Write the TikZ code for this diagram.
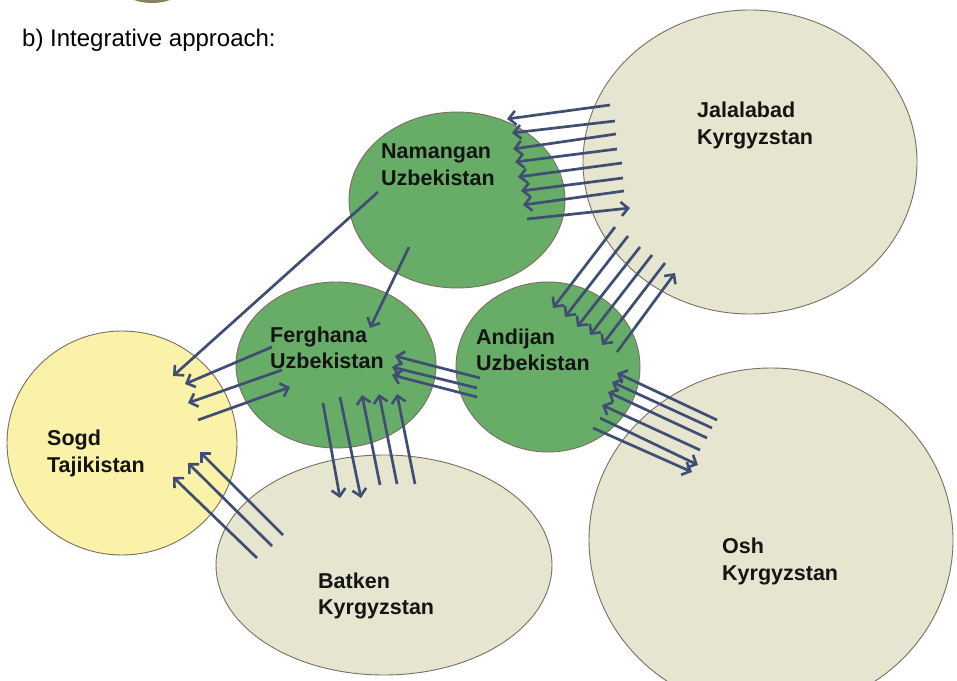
\documentclass[tikz,border=0pt]{standalone}
\usepackage{fontspec}
\setmainfont{Liberation Sans}
\usetikzlibrary{shapes.geometric,arrows.meta}
\definecolor{greenfill}{HTML}{68AD67}
\definecolor{beige}{HTML}{E6E6D0}
\definecolor{yel}{HTML}{FAF2A8}
\definecolor{rim}{HTML}{7A6E62}
\definecolor{arr}{HTML}{3F4E72}
\definecolor{oldshape}{HTML}{8A845E}
\begin{document}
\begin{tikzpicture}[x=1pt,y=-1pt,
  region/.style={ellipse, draw=rim, line width=0.9pt, inner sep=0pt},
  lab/.style={anchor=base west, font=\bfseries\fontsize{21.5}{25}\selectfont, text=black!92, inner sep=0pt},
  flow/.style={draw=arr, line width=2.7pt, -{Straight Barb[length=7pt,width=14pt,line width=2.6pt]}}]
\fill[white] (0,0) rectangle (957,680);
\useasboundingbox (0,0) rectangle (957,680);
\begin{scope}
\clip (0,0) rectangle (957,680);
\node[ellipse, fill=oldshape, minimum width=76pt, minimum height=50pt, inner sep=0pt] (prev) at (152,-22) {};
\node[region, fill=yel, minimum width=230pt, minimum height=224pt] (sogd) at (122,443) {};
\node[region, fill=greenfill, minimum width=200pt, minimum height=166pt] (ferg) at (336,365) {};
\node[region, fill=greenfill, minimum width=216pt, minimum height=176pt] (nam) at (457,200) {};
\node[region, fill=greenfill, minimum width=184pt, minimum height=170pt] (andi) at (548,367) {};
\node[region, fill=beige, minimum width=334pt, minimum height=304pt] (jal) at (750,162) {};
\node[region, fill=beige, minimum width=364pt, minimum height=344pt] (osh) at (771,540) {};
\node[region, fill=beige, minimum width=336pt, minimum height=220pt] (bat) at (384,565) {};
\end{scope}

\node[anchor=base west, font=\fontsize{24}{28}\selectfont, inner sep=0pt] (title) at (22,46) {b) Integrative approach:};

\node[lab] (namA) at (381,158) {Namangan};
\node[lab] (namB) at (381,185) {Uzbekistan};
\node[lab] (jalA) at (697,117) {Jalalabad};
\node[lab] (jalB) at (697,144) {Kyrgyzstan};
\node[lab] (ferA) at (270,342) {Ferghana};
\node[lab] (ferB) at (270,368) {Uzbekistan};
\node[lab] (andA) at (476,344) {Andijan};
\node[lab] (andB) at (476,370) {Uzbekistan};
\node[lab] (sogA) at (47,445) {Sogd};
\node[lab] (sogB) at (47,472) {Tajikistan};
\node[lab] (batA) at (318,588) {Batken};
\node[lab] (batB) at (318,614) {Kyrgyzstan};
\node[lab] (oshA) at (722,553) {Osh};
\node[lab] (oshB) at (722,580) {Kyrgyzstan};

% Jalalabad <-> Namangan
\foreach \a/\b/\c/\d in {610/105/507/119, 615/121/512/133, 616/134/513/149, 617/149/515/162,
  622/163/518/177, 623/178/521/191, 624/191/523/205, 527/219/630/208}
  \draw[flow] (\a,\b) -- (\c,\d);
% Jalalabad <-> Andijan
\foreach \a/\b/\c/\d in {615/227/553/308, 628/236/565/317, 640/247/577/327, 652/255/590/335,
  665/263/602/345, 617/352/675/273}
  \draw[flow] (\a,\b) -- (\c,\d);
% Andijan -> Ferghana
\foreach \a/\b/\c/\d in {480/378/395/356, 477/388/392/367, 477/397/392/375}
  \draw[flow] (\a,\b) -- (\c,\d);
% Osh <-> Andijan
\foreach \a/\b/\c/\d in {717/420/617/373, 712/428/612/382, 707/438/608/392, 700/450/602/405,
  600/418/698/465, 593/428/692/472}
  \draw[flow] (\a,\b) -- (\c,\d);
% Ferghana <-> Batken
\foreach \a/\b/\c/\d in {323/403/340/498, 340/397/361/498, 380/485/362/395, 397/484/379/394, 415/484/397/394}
  \draw[flow] (\a,\b) -- (\c,\d);
% Namangan -> Sogd, Namangan -> Ferghana
\draw[flow] (378,192) -- (173,376);
\draw[flow] (409,247) -- (370,328);
% Ferghana <-> Sogd
\foreach \a/\b/\c/\d in {272/347/185/384, 282/370/188/403, 198/420/290/387}
  \draw[flow] (\a,\b) -- (\c,\d);
% Batken -> Sogd
\foreach \a/\b/\c/\d in {283/535/200/452, 272/546/188/463, 257/558/173/477}
  \draw[flow] (\a,\b) -- (\c,\d);
\end{tikzpicture}
\end{document}
